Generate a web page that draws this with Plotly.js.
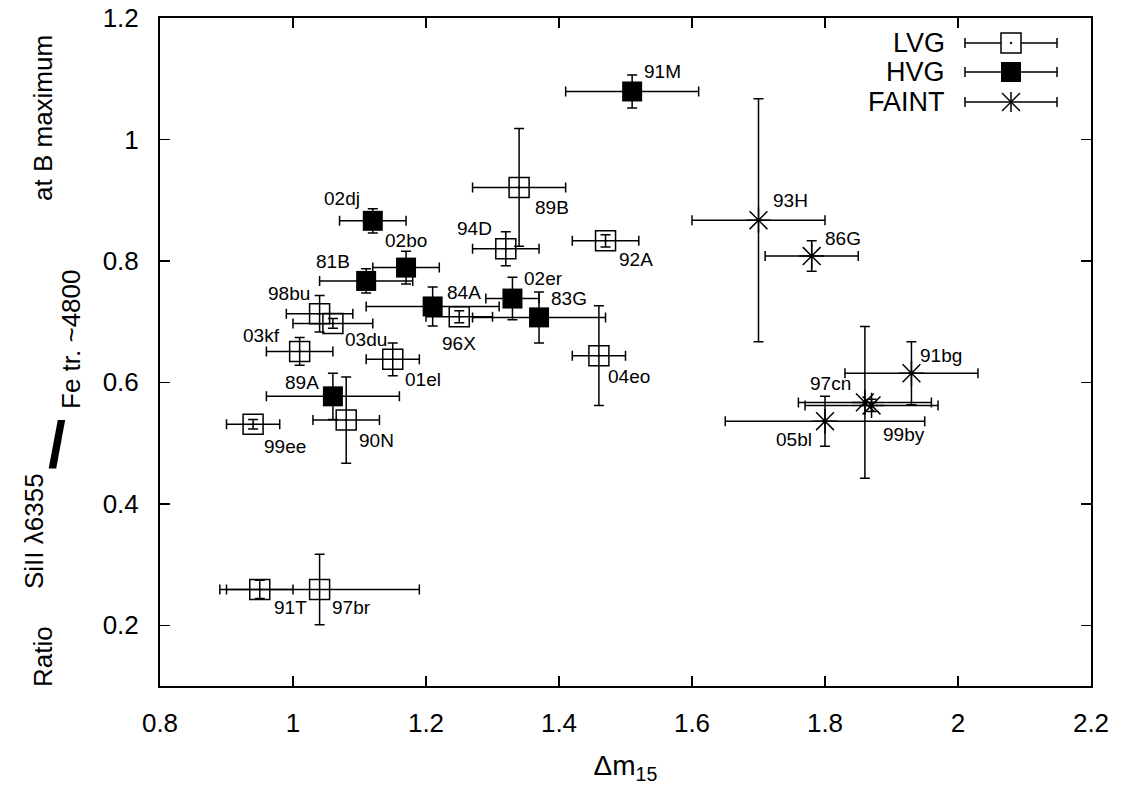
<!DOCTYPE html>
<html><head><meta charset="utf-8">
<script src="https://cdn.plot.ly/plotly-3.0.1.min.js"></script>
<style>html,body{margin:0;padding:0;background:#fff}#chart{width:1126px;height:785px}</style>
</head><body><div id="chart"></div>
<script>
// ---- data ----
const lvgNames    = ['89B','94D','92A','98bu','03du','03kf','01el','96X','04eo','90N','99ee','91T','97br'];
const lvgDm15     = [1.34, 1.32, 1.47, 1.04, 1.06, 1.01, 1.15, 1.25, 1.46, 1.08, 0.94, 0.95, 1.04];
const lvgRatio    = [0.921,0.820,0.833,0.713,0.697,0.651,0.638,0.708,0.644,0.538,0.531,0.259,0.259];
const lvgDm15Err  = [0.07, 0.05, 0.05, 0.05, 0.06, 0.05, 0.04, 0.05, 0.04, 0.05, 0.04, 0.05, 0.15];
const lvgRatioErr = [0.097,0.028,0.010,0.030,0.008,0.023,0.027,0.010,0.082,0.071,0.008,0.015,0.058];

const hvgNames    = ['91M','02dj','02bo','81B','84A','02er','83G','89A'];
const hvgDm15     = [1.51, 1.12, 1.17, 1.11, 1.21, 1.33, 1.37, 1.06];
const hvgRatio    = [1.079,0.866,0.789,0.767,0.725,0.738,0.707,0.577];
const hvgDm15Err  = [0.10, 0.05, 0.05, 0.07, 0.10, 0.04, 0.10, 0.10];
const hvgRatioErr = [0.027,0.020,0.027,0.020,0.032,0.035,0.042,0.038];

const faintNames    = ['93H','86G','91bg','97cn','99by','05bl'];
const faintDm15     = [1.70, 1.78, 1.93, 1.86, 1.87, 1.80];
const faintRatio    = [0.867,0.808,0.615,0.567,0.562,0.536];
const faintDm15Err  = [0.10, 0.07, 0.10, 0.10, 0.10, 0.15];
const faintRatioErr = [0.200,0.025,0.052,0.125,0.010,0.041];

const groupNames = ['LVG','HVG','FAINT'];
const xTickVals = [0.8,1,1.2,1.4,1.6,1.8,2,2.2];
const yTickVals = [0.2,0.4,0.6,0.8,1,1.2];

// ---- label placement (anchor, dx px, dy px downwards) ----
const labelPlace = {
  '91M':['left',10,-20], '89B':['left',14,20], '94D':['right',-12,-20], '92A':['left',11,19],
  '02dj':['right',-11,-22], '02bo':['center',0,-27], '81B':['right',-14,-19], '98bu':['right',-8,-20],
  '03du':['left',10,16], '03kf':['right',-18,-16], '84A':['left',12,-14], '96X':['center',0,27],
  '02er':['left',10,-20], '83G':['left',10,-19], '01el':['left',10,20], '04eo':['left',7,21],
  '89A':['right',-12,-14], '90N':['left',11,20], '99ee':['left',9,22], '91T':['left',12,18],
  '97br':['left',10,18], '93H':['left',12,-20], '86G':['left',11,-18], '91bg':['left',7,-18],
  '97cn':['right',-12,-19], '99by':['left',9,29], '05bl':['right',-11,18]
};

const FONT = 'Liberation Sans, Arial, Helvetica, sans-serif';
function errs(arr){ return {type:'data', array:arr, visible:true, color:'#000', thickness:1.5, width:5}; }

const traces = [
  {type:'scatter', mode:'markers', name:groupNames[0], x:lvgDm15, y:lvgRatio, text:lvgNames,
   error_x:errs(lvgDm15Err), error_y:errs(lvgRatioErr),
   marker:{symbol:'square-open-dot', size:20, color:'#000', line:{width:1.5, color:'#000'}}},
  {type:'scatter', mode:'markers', name:groupNames[1], x:hvgDm15, y:hvgRatio, text:hvgNames,
   error_x:errs(hvgDm15Err), error_y:errs(hvgRatioErr),
   marker:{symbol:'square', size:20, color:'#000', line:{width:0}}},
  {type:'scatter', mode:'markers', name:groupNames[2], x:faintDm15, y:faintRatio, text:faintNames,
   error_x:errs(faintDm15Err), error_y:errs(faintRatioErr),
   marker:{symbol:'asterisk-open', size:21, color:'#000', line:{width:1.5, color:'#000'}}}
];

// point labels
const annotations = [];
[[lvgNames,lvgDm15,lvgRatio],[hvgNames,hvgDm15,hvgRatio],[faintNames,faintDm15,faintRatio]].forEach(g=>{
  g[0].forEach((n,i)=>{
    const p = labelPlace[n];
    annotations.push({text:n, x:g[1][i], y:g[2][i], xref:'x', yref:'y', showarrow:false,
      xanchor:p[0], yanchor:'middle', xshift:p[1], yshift:-p[2], font:{family:FONT, size:19, color:'#000'}});
  });
});

// y-axis title pieces (rotated, gnuplot-style fraction)
const L = 160, T = 18, H = 668;
function py(v){ return (T + H - v)/H; }
const yTitle = [
  ['Ratio', 43, 657, -90, 26],
  ['SiII \u03bb6355', 34, 531, -90, 26],
  ['<b>/</b>', 57, 445, 0, 64],
  ['Fe tr. ~4800', 71, 340, -90, 26],
  ['at B maximum', 43, 118, -90, 26]
];
yTitle.forEach(t=>{
  annotations.push({text:t[0], xref:'paper', yref:'paper', x:0, xshift:t[1]-L, y:py(t[2]),
    textangle:t[3], showarrow:false, xanchor:'center', yanchor:'middle',
    font:{family:FONT, size:t[4], color:'#000'}});
});

// legend (gnuplot style: text left, sample with error bar right)
const W = 931;
function px(v){ return (v - L)/W; }
const legRows = [43, 72, 102];
const shapes = [];
const lineX0 = px(965), lineX1 = px(1057), symX = px(1011);
legRows.forEach((r,i)=>{
  const yy = py(r);
  annotations.push({text:groupNames[i], xref:'paper', yref:'paper', x:px(947), y:yy, xanchor:'right', yanchor:'middle',
    showarrow:false, font:{family:FONT, size:27, color:'#000'}});
  shapes.push({type:'line', xref:'paper', yref:'paper', x0:lineX0, x1:lineX1, y0:yy, y1:yy, line:{color:'#000', width:1.5}});
  [lineX0, lineX1].forEach(cx=>{
    shapes.push({type:'line', xref:'paper', yref:'paper', xsizemode:'scaled', ysizemode:'pixel', yanchor:yy,
      x0:cx, x1:cx, y0:-5, y1:5, line:{color:'#000', width:1.5}});
  });
  if(i===0){
    shapes.push({type:'rect', xref:'paper', yref:'paper', xsizemode:'pixel', ysizemode:'pixel', xanchor:symX, yanchor:yy,
      x0:-10, x1:10, y0:-10, y1:10, fillcolor:'#fff', line:{color:'#000', width:1.5}});
    shapes.push({type:'circle', xref:'paper', yref:'paper', xsizemode:'pixel', ysizemode:'pixel', xanchor:symX, yanchor:yy,
      x0:-1, x1:1, y0:-1, y1:1, fillcolor:'#000', line:{color:'#000', width:0.5}});
  } else if(i===1){
    shapes.push({type:'rect', xref:'paper', yref:'paper', xsizemode:'pixel', ysizemode:'pixel', xanchor:symX, yanchor:yy,
      x0:-10, x1:10, y0:-10, y1:10, fillcolor:'#000', line:{color:'#000', width:0}});
  } else {
    [[0,-10,0,10],[-9,-9,9,9],[-9,9,9,-9]].forEach(s=>{
      shapes.push({type:'line', xref:'paper', yref:'paper', xsizemode:'pixel', ysizemode:'pixel', xanchor:symX, yanchor:yy,
        x0:s[0], y0:s[1], x1:s[2], y1:s[3], line:{color:'#000', width:1.5}});
    });
  }
});

const axisCommon = {showgrid:false, zeroline:false, ticks:'inside', ticklen:10, tickwidth:1.5, tickcolor:'#000',
  showline:true, linewidth:2, linecolor:'#000', mirror:'ticks', tickfont:{family:FONT, size:26, color:'#000'}};

const layout = {
  width:1126, height:785, margin:{l:160, r:35, t:18, b:99, pad:0},
  paper_bgcolor:'#fff', plot_bgcolor:'#fff', showlegend:false,
  font:{family:FONT, color:'#000'},
  xaxis:Object.assign({}, axisCommon, {range:[0.8,2.2], tickvals:xTickVals, ticklabelstandoff:13,
    title:{text:'\u0394m<sub>15</sub>', font:{family:FONT, size:28, color:'#000'}, standoff:18}}),
  yaxis:Object.assign({}, axisCommon, {range:[0.1,1.2], tickvals:yTickVals, ticklabelstandoff:14}),
  annotations:annotations, shapes:shapes
};

Plotly.newPlot('chart', traces, layout, {displayModeBar:false, staticPlot:true});
</script></body></html>
